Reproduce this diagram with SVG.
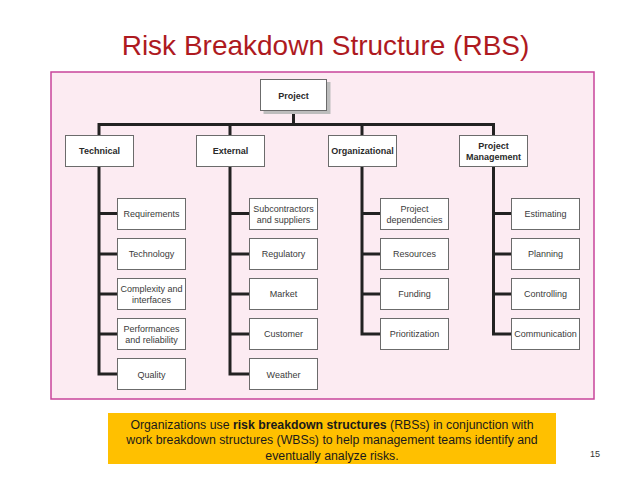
<svg xmlns="http://www.w3.org/2000/svg" width="638" height="479" viewBox="0 0 638 479">
<defs>
<style>
.box{fill:#fff;stroke:#6b6b6b;stroke-width:1}
.shadow{fill:#bdbdbd}
.lbl{font-family:"Liberation Sans",Arial,sans-serif;font-size:9px;fill:#3a3a3a;text-anchor:middle}
.b{font-weight:bold;fill:#2a2a2a}
.con{fill:none;stroke:#222;stroke-width:3;stroke-linejoin:miter;stroke-linecap:butt}
.cap{font-family:"Liberation Sans",Arial,sans-serif;font-size:12.3px;fill:#1a1a1a;text-anchor:middle}
</style>
</defs>
<rect width="638" height="479" fill="#fff"/>
<text x="325.5" y="55" font-family="'Liberation Sans',Arial,sans-serif" font-size="28" fill="#ae1a1f" text-anchor="middle">Risk Breakdown Structure (RBS)</text>
<rect x="51" y="72" width="543" height="327" fill="#fcebf2" stroke="#c8449a" stroke-width="1.5"/>

<g id="connectors">
<path class="con" d="M293.5 111V124.5M99 136V124.5H493.5V136M230 124.5V136M362 124.5V136"/>
<path class="con" d="M99 166V374H117M99 213.5H117M99 254H117M99 294H117M99 334H117"/>
<path class="con" d="M230 166V374H249M230 213.5H249M230 254H249M230 294H249M230 334H249"/>
<path class="con" d="M362 166V334H380M362 213.5H380M362 254H380M362 294H380"/>
<path class="con" d="M493.5 166V334H511M493.5 213.5H511M493.5 254H511M493.5 294H511"/>
</g>

<g id="project">
<rect class="shadow" x="263.5" y="82" width="67" height="32"/>
<rect class="box" x="260.5" y="79.5" width="66" height="31"/>
<text class="lbl b" x="293.5" y="98.5">Project</text>
</g>

<g id="technical">
<rect class="box" x="65.5" y="135.5" width="68" height="31"/>
<text class="lbl b" x="99.5" y="154">Technical</text>
</g>
<g id="external">
<rect class="box" x="196.5" y="135.5" width="68" height="31"/>
<text class="lbl b" x="230.5" y="154">External</text>
</g>
<g id="organizational">
<rect class="box" x="328.5" y="135.5" width="68" height="31"/>
<text class="lbl b" x="362.5" y="154">Organizational</text>
</g>
<g id="project-management">
<rect class="box" x="459.5" y="135.5" width="68" height="31"/>
<text class="lbl b" x="493.5" y="149">Project</text>
<text class="lbl b" x="493.5" y="160">Management</text>
</g>

<g id="requirements"><rect class="box" x="117.5" y="198.5" width="68" height="31"/><text class="lbl" x="151.5" y="217">Requirements</text></g>
<g id="technology"><rect class="box" x="117.5" y="238.5" width="68" height="31"/><text class="lbl" x="151.5" y="256.5">Technology</text></g>
<g id="complexity"><rect class="box" x="117.5" y="278.5" width="68" height="31"/><text class="lbl" x="151.5" y="292">Complexity and</text><text class="lbl" x="151.5" y="303">interfaces</text></g>
<g id="performances"><rect class="box" x="117.5" y="318.5" width="68" height="31"/><text class="lbl" x="151.5" y="332">Performances</text><text class="lbl" x="151.5" y="343">and reliability</text></g>
<g id="quality"><rect class="box" x="117.5" y="358.5" width="68" height="31"/><text class="lbl" x="151.5" y="377.5">Quality</text></g>

<g id="subcontractors"><rect class="box" x="249.5" y="198.5" width="68" height="31"/><text class="lbl" x="283.5" y="212">Subcontractors</text><text class="lbl" x="283.5" y="222.5">and suppliers</text></g>
<g id="regulatory"><rect class="box" x="249.5" y="238.5" width="68" height="31"/><text class="lbl" x="283.5" y="257">Regulatory</text></g>
<g id="market"><rect class="box" x="249.5" y="278.5" width="68" height="31"/><text class="lbl" x="283.5" y="297">Market</text></g>
<g id="customer"><rect class="box" x="249.5" y="318.5" width="68" height="31"/><text class="lbl" x="283.5" y="337">Customer</text></g>
<g id="weather"><rect class="box" x="249.5" y="358.5" width="68" height="31"/><text class="lbl" x="283.5" y="377.5">Weather</text></g>

<g id="dependencies"><rect class="box" x="380.5" y="198.5" width="68" height="31"/><text class="lbl" x="414.5" y="212">Project</text><text class="lbl" x="414.5" y="222.5">dependencies</text></g>
<g id="resources"><rect class="box" x="380.5" y="238.5" width="68" height="31"/><text class="lbl" x="414.5" y="257">Resources</text></g>
<g id="funding"><rect class="box" x="380.5" y="278.5" width="68" height="31"/><text class="lbl" x="414.5" y="297">Funding</text></g>
<g id="prioritization"><rect class="box" x="380.5" y="318.5" width="68" height="31"/><text class="lbl" x="414.5" y="337">Prioritization</text></g>

<g id="estimating"><rect class="box" x="511.5" y="198.5" width="68" height="31"/><text class="lbl" x="545.5" y="217">Estimating</text></g>
<g id="planning"><rect class="box" x="511.5" y="238.5" width="68" height="31"/><text class="lbl" x="545.5" y="257">Planning</text></g>
<g id="controlling"><rect class="box" x="511.5" y="278.5" width="68" height="31"/><text class="lbl" x="545.5" y="297">Controlling</text></g>
<g id="communication"><rect class="box" x="511.5" y="318.5" width="68" height="31"/><text class="lbl" x="545.5" y="337">Communication</text></g>

<rect x="108" y="413" width="448" height="51" fill="#ffc000"/>
<text class="cap" x="332" y="428.5">Organizations use <tspan font-weight="bold">risk breakdown structures</tspan> (RBSs) in conjunction with</text>
<text class="cap" x="332" y="444">work breakdown structures (WBSs) to help management teams identify and</text>
<text class="cap" x="332" y="459.5">eventually analyze risks.</text>
<text x="595" y="457" font-family="'Liberation Sans',Arial,sans-serif" font-size="9" fill="#333" text-anchor="middle">15</text>
</svg>
